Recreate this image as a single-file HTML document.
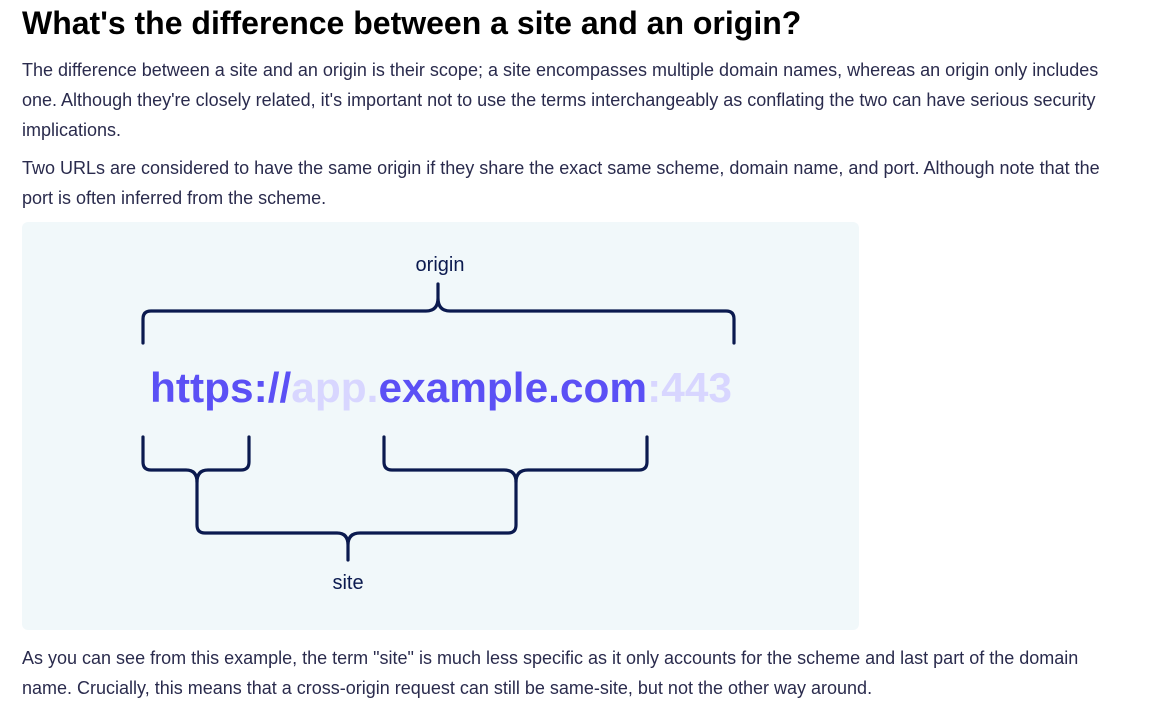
<!DOCTYPE html>
<html><head><meta charset="utf-8"><style>
body{margin:0;background:#fff;width:1156px;height:703px;overflow:hidden;font-family:"Liberation Sans",Arial,sans-serif;}
h1{position:absolute;left:22px;top:5px;margin:0;font-size:32px;font-weight:bold;color:#000;white-space:nowrap;}
p{position:absolute;left:22px;margin:0;font-size:18px;line-height:30px;color:#2a2b4d;white-space:nowrap;}
.box{position:absolute;left:22px;top:222px;width:837px;height:408px;background:#f1f8fa;border-radius:6px;}
</style></head><body>
<h1>What's the difference between a site and an origin?</h1>
<p style="top:55px">The difference between a site and an origin is their scope; a site encompasses multiple domain names, whereas an origin only includes<br>one. Although they're closely related, it's important not to use the terms interchangeably as conflating the two can have serious security<br>implications.</p>
<p style="top:153px">Two URLs are considered to have the same origin if they share the exact same scheme, domain name, and port. Although note that the<br>port is often inferred from the scheme.</p>
<div class="box"></div>
<svg style="position:absolute;left:0;top:0" width="1156" height="703">
<g fill="none" stroke="#0b1a4f" stroke-width="3.2" stroke-linecap="round" stroke-linejoin="round">
<path d="M143,343 V319 Q143,311 151,311 H426 Q438,311 438,298 V284 M438,298 Q438,311 450,311 H726 Q734,311 734,319 V343"/>
<path d="M143,437 V462 Q143,470 151,470 H186 Q197,470 197,482 V525 Q197,533 205,533 H337 Q348,533 348,545 V560 M348,545 Q348,533 360,533 H508 Q516,533 516,525 V482 Q516,470 528,470 H639 Q647,470 647,462 V437"/>
<path d="M249,437 V462 Q249,470 241,470 H208 Q197,470 197,482"/>
<path d="M384,437 V462 Q384,470 392,470 H504 Q516,470 516,482"/>
</g>
<text x="440" y="271" text-anchor="middle" font-family="Liberation Sans, sans-serif" font-size="20" fill="#0b1a4f">origin</text>
<text x="348" y="589" text-anchor="middle" font-family="Liberation Sans, sans-serif" font-size="20" fill="#0b1a4f">site</text>
<text x="150" y="402" font-family="Liberation Sans, sans-serif" font-weight="bold" font-size="42" textLength="582" lengthAdjust="spacingAndGlyphs"><tspan fill="#5b50f5">https://</tspan><tspan fill="#d8d6ff">app.</tspan><tspan fill="#5b50f5">example.com</tspan><tspan fill="#d8d6ff">:443</tspan></text>
</svg>
<p style="top:643px">As you can see from this example, the term "site" is much less specific as it only accounts for the scheme and last part of the domain<br>name. Crucially, this means that a cross-origin request can still be same-site, but not the other way around.</p>
</body></html>
